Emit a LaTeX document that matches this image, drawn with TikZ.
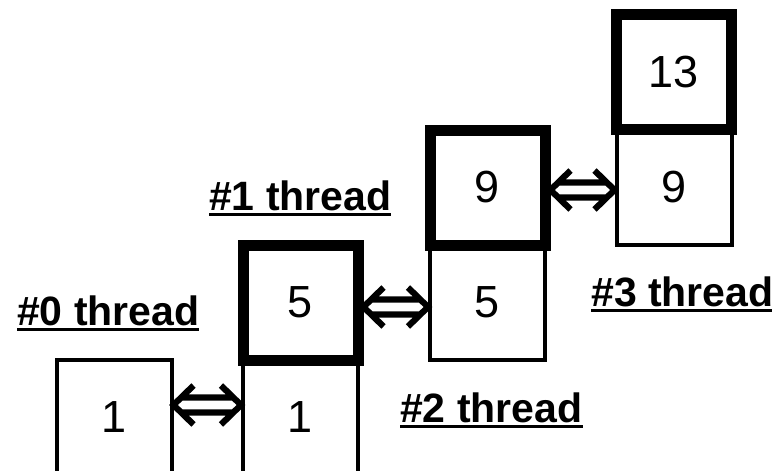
\documentclass[tikz,border=0pt]{standalone}
\usepackage{fontspec}
\setmainfont{Liberation Sans}
\usetikzlibrary{calc}
\newcommand\ulab[1]{\setbox0\hbox{#1}\rlap{\rule[-6pt]{\wd0}{3pt}}\box0}
\tikzset{
  cell/.style={draw, line width=4pt, minimum width=115pt, minimum height=115pt, inner sep=0pt,
    font=\fontsize{45}{54}\selectfont},
  thickcell/.style={cell, line width=11pt},
  threadlabel/.style={anchor=base west, inner sep=0pt, font=\fontsize{41}{48}\selectfont\bfseries},
  dblarrow/.style={line width=6.2pt, to path={let \p1=(\tikztostart), \p2=(\tikztotarget) in
    (\x1+9pt,\y1+7.5pt) -- (\x2-9pt,\y2+7.5pt)
    (\x1+9pt,\y1-7.5pt) -- (\x2-9pt,\y2-7.5pt)
    (\x1+20pt,\y1+19.5pt) -- (\x1,\y1) -- (\x1+20pt,\y1-19.5pt)
    (\x2-20pt,\y2+19.5pt) -- (\x2,\y2) -- (\x2-20pt,\y2-19.5pt)}}
}
\begin{document}
\begin{tikzpicture}[x=1pt, y=-1pt]
\clip (0,0) rectangle (772,471);
\fill[white] (0,0) rectangle (772,471);
% thin cells
\node[cell] (b1a) at (114,417.5) {1};
\node[cell] (b1b) at (300.5,417.5) {1};
\node[cell] (b5b) at (487.5,302.5) {5};
\node[cell] (b9b) at (674,187.5) {9};
% thick cells
\node[thickcell] (b5t) at (300.5,302.5) {5};
\node[thickcell] (b9t) at (487.5,187.5) {9};
\node[thickcell] (b13t) at (674,72) {13};
% labels
\node[threadlabel] (l0) at (17,325) {\ulab{\#0 thread}};
\node[threadlabel] (l1) at (209,210) {\ulab{\#1 thread}};
\node[threadlabel] (l2) at (400,422) {\ulab{\#2 thread}};
\node[threadlabel] (l3) at (591,306) {\ulab{\#3 thread}};
% arrows
\draw[dblarrow] ([yshift=12.5pt]b1a.east) to ([yshift=12.5pt]b1b.west);
\draw[dblarrow] ([yshift=-4.5pt]b5t.east) to ([yshift=-4.5pt]b5b.west);
\draw[dblarrow] ([yshift=-2.5pt]b9t.east) to ([yshift=-2.5pt]b9b.west);
\end{tikzpicture}
\end{document}
